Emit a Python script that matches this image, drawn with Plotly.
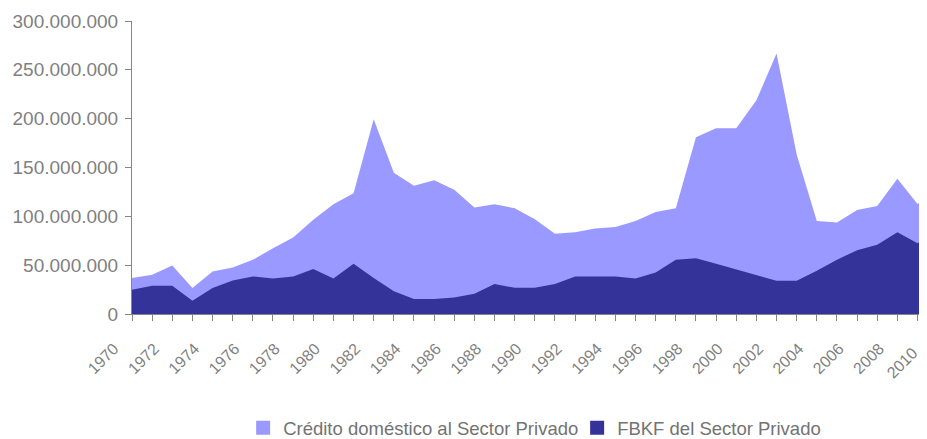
import plotly.graph_objects as go

years = list(range(1970, 2011))

# valores en millones
credito_mill = [36.8, 40.2, 49.7, 26.6, 43.6, 47.7, 55.5, 67.4, 78.3, 96.4,
                112.4, 123.6, 199.5, 144.7, 131.4, 136.9, 127.3, 109.0, 112.4, 108.3,
                97.0, 82.1, 83.8, 87.5, 89.2, 95.3, 104.5, 108.3, 181.1, 190.3,
                190.3, 218.9, 266.6, 163.4, 95.3, 93.6, 106.6, 110.7, 138.6, 112.7,
                127.0]
fbkf_mill = [24.9, 28.9, 28.9, 13.6, 26.6, 34.4, 38.5, 36.4, 38.5, 46.0,
             36.4, 51.4, 36.8, 23.2, 15.3, 15.3, 17.0, 20.8, 30.6, 26.9,
             26.9, 30.6, 38.5, 38.5, 38.5, 36.4, 42.6, 55.5, 57.2, 51.4,
             45.6, 39.8, 34.0, 34.0, 44.3, 55.5, 65.4, 70.8, 83.8, 72.5,
             86.0]

names = ["Crédito doméstico al Sector Privado", "FBKF del Sector Privado"]
colors = ["#9999FF", "#333399"]

credito = [v * 1e6 for v in credito_mill]
fbkf = [v * 1e6 for v in fbkf_mill]

GREY = "#868686"
FONT = "Liberation Sans, Arial, sans-serif"

# el original esta cortado a la derecha: el borde cae en ~2009.47
x_end = 2009.47

fig = go.Figure()
for serie, name, color in zip([credito, fbkf], names, colors):
    fig.add_trace(go.Scatter(x=years, y=serie, mode="lines", fill="tozeroy",
                             line=dict(width=0, color=color), fillcolor=color,
                             showlegend=False, name=name))
    # entrada de leyenda con cuadrado
    fig.add_trace(go.Scatter(x=[None], y=[None], mode="markers", name=name,
                             marker=dict(symbol="square", size=14, color=color)))

# la pagina deja 8px de margen, la figura ocupa el resto de la ventana
fig.update_layout(
    width=919, height=431,
    margin=dict(l=124, r=0, t=13, b=125, autoexpand=False),
    plot_bgcolor="white", paper_bgcolor="white",
    separators=",.",
    font=dict(family=FONT, color="#7f7f7f"),
    legend=dict(orientation="h", x=0.1398, xanchor="left", y=-0.39, yanchor="middle",
                font=dict(size=18.5, color="#737373"), itemwidth=30,
                entrywidth=289, tracegroupgap=0),
)
fig.update_xaxes(range=[1970, x_end], tickmode="linear", tick0=1970, dtick=2,
                 tickangle=-45, tickfont=dict(size=16, color="#7f7f7f"),
                 ticklabelshift=-18, ticklabelstandoff=12,
                 showline=True, linecolor=GREY, linewidth=1,
                 ticks="outside", ticklen=6, tickcolor=GREY, showgrid=False,
                 zeroline=False,
                 minor=dict(dtick=1, ticks="outside", ticklen=6, tickcolor=GREY,
                            showgrid=False))
fig.update_yaxes(range=[0, 300e6], dtick=50e6, tickformat=",d",
                 tickfont=dict(size=19, color="#7f7f7f"),
                 showline=True, linecolor=GREY, linewidth=1,
                 ticks="outside", ticklen=6, tickcolor=GREY, showgrid=False,
                 zeroline=False, ticklabelstandoff=3)

# etiqueta del ultimo anio, cuyo tick queda fuera del borde
fig.add_annotation(text=str(years[-1]), xref="paper", yref="paper",
                   x=(916 - 124) / (919 - 124), y=-(333 - 306.3) / 293.6,
                   xanchor="right", yanchor="top", showarrow=False,
                   textangle=-45, font=dict(size=16, color="#7f7f7f"))

fig.write_html("out.html")
